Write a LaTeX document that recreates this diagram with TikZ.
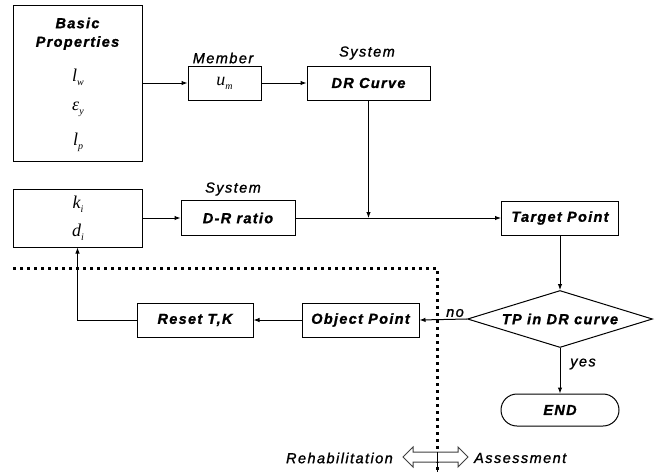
\documentclass[tikz,border=0pt]{standalone}
\usepackage{fontspec}
\setmainfont{Liberation Sans}
\newfontfamily\boxfont[LetterSpace=9,FakeBold=1.2]{Liberation Sans}
\newfontfamily\labfont[LetterSpace=10,FakeBold=1.2]{Liberation Sans}
\newfontfamily\varfont{Liberation Serif}
\usetikzlibrary{shapes.geometric,arrows.meta}
\newcommand{\vsym}[2]{{\varfont\itshape #1}\raisebox{-4pt}{\fontsize{10}{12}\selectfont\varfont\itshape #2}}
\tikzset{
  txt/.style={inner sep=0pt,
    font=\fontsize{14.5}{17}\selectfont\boxfont\bfseries\itshape},
  box/.style={txt, draw, line width=1pt},
  lab/.style={inner sep=0pt, font=\fontsize{14.5}{17}\selectfont\labfont\itshape},
  mth/.style={inner sep=0pt, font=\fontsize{18}{20}\selectfont},
  arr/.style={line width=1pt, -{Latex[length=6pt,width=4.5pt]}},
  dotline/.style={line width=3pt, dash pattern=on 3pt off 4pt},
}
\begin{document}
\begin{tikzpicture}[x=1pt,y=-1pt]
\useasboundingbox (0,0) rectangle (662,472);
% boxes
\node[box, minimum width=129pt, minimum height=156pt] (basic) at (77.5,83) {};
\node[txt] (basictxt) at (77.5,23) {Basic};
\node[txt] (proptxt) at (77.5,43) {Properties};
\node[mth] (lw) at (78,77) {\vsym{l}{w}};
\node[mth] (ey) at (78,109) {\vsym{ε}{y}};
\node[mth] (lp) at (78,142) {\vsym{l}{p}};

\node[box, minimum width=73pt, minimum height=34pt] (um) at (224.5,83) {\normalfont\fontsize{18}{20}\selectfont\vsym{u}{m}};
\node[lab] (member) at (223,58) {Member};

\node[box, minimum width=123pt, minimum height=34pt] (drc) at (368.5,83) {DR Curve};
\node[lab] (sys1) at (367,53) {System};

\node[box, minimum width=129pt, minimum height=58pt] (kd) at (77.5,218) {};
\node[mth] (ki) at (78,204) {\vsym{k}{i}};
\node[mth] (di) at (78,232) {\vsym{d}{i}};

\node[box, minimum width=114pt, minimum height=35pt] (drr) at (238,218) {D-R ratio};
\node[lab] (sys2) at (233,189) {System};

\node[box, minimum width=117pt, minimum height=34pt] (tp) at (560,218) {Target Point};

\node[box, diamond, aspect=3.2, minimum width=185pt, minimum height=57pt] (dia) at (560,319) {TP in DR curve};

\node[box, minimum width=117pt, minimum height=34pt] (op) at (360.5,320) {Object Point};
\node[box, minimum width=116pt, minimum height=34pt] (rs) at (195,320) {Reset T,K};

\node[box, rounded corners=16pt, minimum width=118pt, minimum height=32pt] (end) at (560,410) {END};

\node[lab] (no) at (455,313) {no};
\node[lab] (yes) at (583,364) {yes};

% connectors
\draw[arr] (basic.east) -- (um.west);
\draw[arr] (um.east) -- (drc.west);
\draw[arr] (kd.east |- drr.west) -- (drr.west);
\draw[arr] (drr.east) -- (tp.west);
\draw[arr] (drc.south) -- (drc.south |- drr.east);
\draw[arr] (tp.south) -- (dia.north);
\draw[arr] (dia.west) -- (op.east);
\draw[arr] (op.west) -- (rs.east);
\draw[arr] (rs.west) -| (kd.south);
\draw[arr] (dia.south) -- (end.north);

% dotted separation line
\coordinate (d1) at (13,268);
\coordinate (d2) at (437,268);
\coordinate (d3) at (437,472);
\draw[dotline] (d1) -- (d2) -- (d3);

% hollow double arrow
\draw[line width=1pt, draw=black!75, fill=white, line join=miter]
  (403,457) -- (413,447) -- (413,452) -- (458,452) -- (458,447) -- (468,457)
  -- (458,467) -- (458,462) -- (413,462) -- (413,467) -- cycle;
\draw[line width=0.8pt] (437,452) -- (437,472);
\node[lab, anchor=east] (rehab) at (393,458) {Rehabilitation};
\node[lab, anchor=west] (assess) at (474,458) {Assessment};
\end{tikzpicture}
\end{document}
